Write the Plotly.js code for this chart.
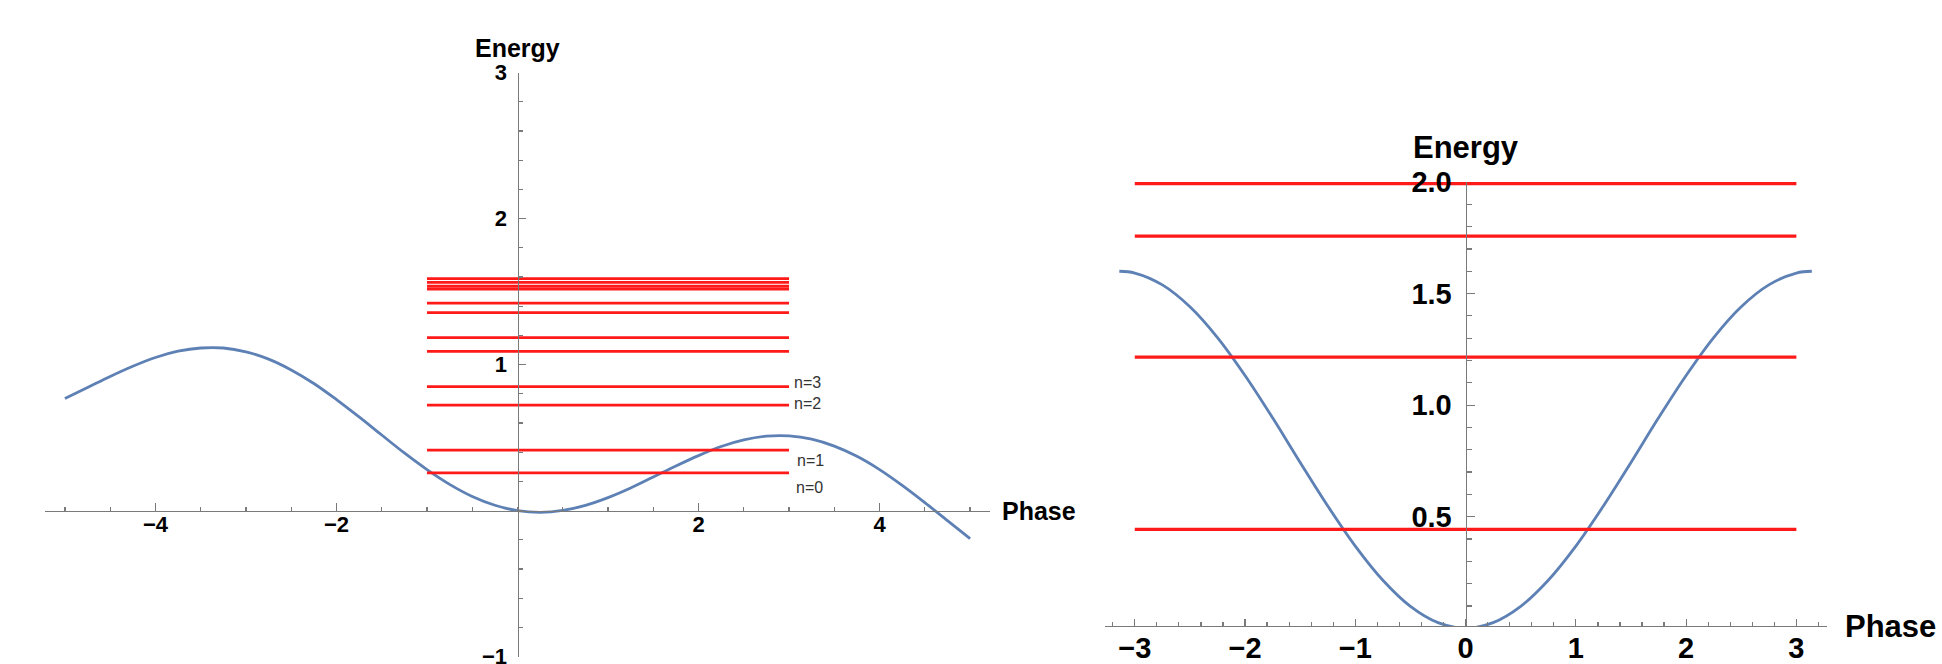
<!DOCTYPE html>
<html>
<head>
<meta charset="utf-8">
<script src="https://cdn.plot.ly/plotly-3.0.1.min.js"></script>
<style>
  html, body { margin: 0; padding: 0; background: #fff; }
  #chart { width: 1942px; height: 664px; }
</style>
</head>
<body>
<div id="chart"></div>
<script>
// ---------- data ----------
// Left panel: tilted potential vs phase
const leftPhase = [-5, -4.75, -4.5, -4.25, -4, -3.75, -3.5, -3.25, -3, -2.75, -2.5, -2.25, -2, -1.75, -1.5, -1.25, -1, -0.75, -0.5, -0.25,
                   0, 0.25, 0.5, 0.75, 1, 1.25, 1.5, 1.75, 2, 2.25, 2.5, 2.75, 3, 3.25, 3.5, 3.75, 4, 4.25, 4.5, 4.75, 5];
const leftEnergy = [0.768, 0.843, 0.919, 0.989, 1.049, 1.092, 1.114, 1.114, 1.088, 1.038, 0.964, 0.871, 0.761, 0.642, 0.518, 0.395, 0.281, 0.180, 0.097, 0.037,
                    0.000, -0.012, 0.001, 0.036, 0.089, 0.155, 0.230, 0.306, 0.377, 0.439, 0.484, 0.510, 0.512, 0.490, 0.442, 0.372, 0.281, 0.173, 0.055, -0.069, -0.192];
const leftLevels = [0.259, 0.414, 0.723, 0.849, 1.091, 1.185, 1.357, 1.421, 1.517, 1.537, 1.563, 1.589];
const leftLevelSpan = [-1, 3];
const levelNames = ['n=0', 'n=1', 'n=2', 'n=3'];

// Right panel: cosine potential vs phase
const rightPhase = [-3.14, -3, -2.75, -2.5, -2.25, -2, -1.75, -1.5, -1.25, -1, -0.75, -0.5, -0.25,
                    0, 0.25, 0.5, 0.75, 1, 1.25, 1.5, 1.75, 2, 2.25, 2.5, 2.75, 3, 3.14];
const rightEnergy = [1.600, 1.592, 1.539, 1.441, 1.303, 1.133, 0.943, 0.743, 0.548, 0.368, 0.215, 0.098, 0.025,
                     0.000, 0.025, 0.098, 0.215, 0.368, 0.548, 0.743, 0.943, 1.133, 1.303, 1.441, 1.539, 1.592, 1.600];
const rightLevels = [0.443, 1.215, 1.757, 1.993];
const rightLevelSpan = [-3, 3];

// tick labels
const leftXTicks = [-4, -2, 2, 4];
const leftYTicks = [-1, 1, 2, 3];
const rightXTicks = [-3, -2, -1, 0, 1, 2, 3];
const rightYTicks = [0.5, 1, 1.5, 2];
const rightYTickText = ['0.5', '1.0', '1.5', '2.0'];

// ---------- layout geometry ----------
const W = 1942, H = 664;
const fam = '"Liberation Sans", Arial, sans-serif';
const axisColor = '#7a7a7a';
const curveColor = '#5E81B5';
const levelColor = '#ff1a1a';

const L = { xr: [-5.22, 5.22], yr: [-1, 3], xd: [45 / W, 990 / W], yd: [1 - 656.6 / H, 1 - 72.7 / H] };
const R = { xr: [-3.27, 3.275], yr: [0.01, 2.0], xd: [1105 / W, 1826.7 / W], yd: [1 - 626 / H, 1 - 182 / H] };

function pos(dom, rng, v) { return dom[0] + (v - rng[0]) / (rng[1] - rng[0]) * (dom[1] - dom[0]); }
function minus(v) { return (v < 0 ? '\u2212' : '') + Math.abs(v); }

const traces = [];
traces.push({ x: leftPhase, y: leftEnergy, xaxis: 'x', yaxis: 'y', mode: 'lines', line: { color: curveColor, width: 2.8, shape: 'spline' }, hoverinfo: 'skip' });
leftLevels.forEach(e => traces.push({ x: leftLevelSpan, y: [e, e], xaxis: 'x', yaxis: 'y', mode: 'lines', line: { color: levelColor, width: 2.8 }, hoverinfo: 'skip' }));
traces.push({ x: rightPhase, y: rightEnergy, xaxis: 'x2', yaxis: 'y2', mode: 'lines', line: { color: curveColor, width: 2.8, shape: 'spline' }, hoverinfo: 'skip', cliponaxis: false });
rightLevels.forEach(e => traces.push({ x: rightLevelSpan, y: [e, e], xaxis: 'x2', yaxis: 'y2', mode: 'lines', line: { color: levelColor, width: 3.2 }, hoverinfo: 'skip' }));

function axisBase(extra) {
  return Object.assign({
    showgrid: false, zeroline: false, showline: true, linecolor: axisColor, linewidth: 1.4,
    ticks: 'inside', tickcolor: axisColor, tickwidth: 1.2, tickmode: 'array', fixedrange: true,
    ticklabeloverflow: 'allow'
  }, extra);
}

const layout = {
  width: W, height: H, autosize: false,
  margin: { l: 0, r: 0, t: 0, b: 0, pad: 0 },
  paper_bgcolor: '#fff', plot_bgcolor: 'rgba(0,0,0,0)',
  showlegend: false, hovermode: false,
  xaxis: axisBase({
    range: L.xr, domain: L.xd, anchor: 'free', position: pos(L.yd, L.yr, 0),
    tickvals: leftXTicks, ticktext: leftXTicks.map(minus), ticklen: 8, ticklabelstandoff: -6,
    tickfont: { family: fam, size: 22, color: '#000', weight: 'bold' },
    minor: { ticks: 'inside', ticklen: 4, dtick: 0.5, tick0: 0, tickcolor: axisColor, tickwidth: 1.2, showgrid: false }
  }),
  yaxis: axisBase({
    range: L.yr, domain: L.yd, anchor: 'free', position: pos(L.xd, L.xr, 0),
    tickvals: leftYTicks, ticktext: leftYTicks.map(minus), ticklen: 7, ticklabelstandoff: 6,
    tickfont: { family: fam, size: 22, color: '#000', weight: 'bold' },
    minor: { ticks: 'inside', ticklen: 4, dtick: 0.2, tick0: 0, tickcolor: axisColor, tickwidth: 1.2, showgrid: false }
  }),
  xaxis2: axisBase({
    range: R.xr, domain: R.xd, anchor: 'free', position: pos(R.yd, R.yr, 0.01),
    tickvals: rightXTicks, ticktext: rightXTicks.map(minus), ticklen: 7, ticklabelstandoff: -4,
    tickfont: { family: fam, size: 29, color: '#000', weight: 'bold' },
    minor: { ticks: 'inside', ticklen: 4, dtick: 0.2, tick0: 0, tickcolor: axisColor, tickwidth: 1.2, showgrid: false }
  }),
  yaxis2: axisBase({
    range: R.yr, domain: R.yd, anchor: 'free', position: pos(R.xd, R.xr, 0),
    tickvals: rightYTicks, ticktext: rightYTickText, ticklen: 8, ticklabelstandoff: 8,
    tickfont: { family: fam, size: 29, color: '#000', weight: 'bold' },
    minor: { ticks: 'inside', ticklen: 5, dtick: 0.1, tick0: 0, tickcolor: axisColor, tickwidth: 1.2, showgrid: false }
  }),
  annotations: [
    { xref: 'x', yref: 'y', x: 0, y: L.yr[1], text: 'Energy', showarrow: false, xanchor: 'center', yanchor: 'bottom', yshift: 9,
      font: { family: fam, size: 25, color: '#000', weight: 'bold' } },
    { xref: 'x', yref: 'y', x: L.xr[1], y: 0, text: 'Phase', showarrow: false, xanchor: 'left', yanchor: 'middle', xshift: 10,
      font: { family: fam, size: 25, color: '#000', weight: 'bold' } },
    { xref: 'x2', yref: 'y2', x: 0, y: R.yr[1], text: 'Energy', showarrow: false, xanchor: 'center', yanchor: 'bottom', yshift: 15,
      font: { family: fam, size: 31, color: '#000', weight: 'bold' } },
    { xref: 'x2', yref: 'y2', x: R.xr[1], y: 0.01, text: 'Phase', showarrow: false, xanchor: 'left', yanchor: 'middle', xshift: 16,
      font: { family: fam, size: 31, color: '#000', weight: 'bold' } }
  ]
};

// level labels n=0..n=3 (placed to the right of the level lines)
const nLabelY = [0.156, 0.345, 0.734, 0.881];
const nLabelX = [3.05, 3.07, 3.03, 3.03];
levelNames.forEach((t, i) => layout.annotations.push({
  xref: 'x', yref: 'y', x: nLabelX[i], y: nLabelY[i], text: t, showarrow: false, xanchor: 'left', yanchor: 'middle',
  font: { family: fam, size: 16, color: '#333' }
}));

Plotly.newPlot('chart', traces, layout, { staticPlot: true, displayModeBar: false });
</script>
</body>
</html>
